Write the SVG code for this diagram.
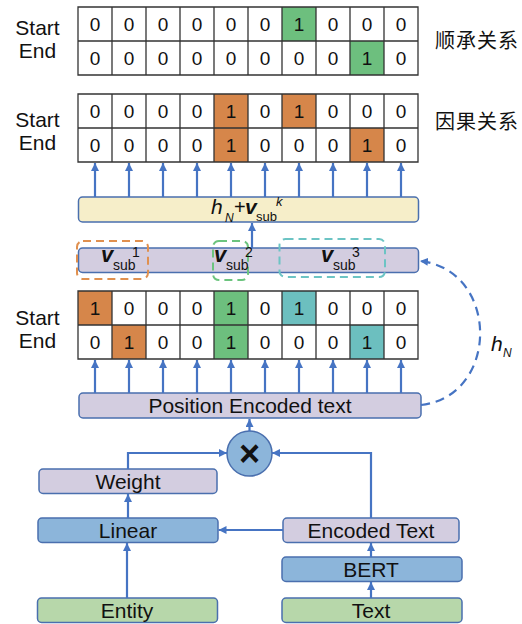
<svg xmlns="http://www.w3.org/2000/svg" width="522" height="624" viewBox="0 0 522 624">
<defs>
<style>
.lbl{font-family:"Liberation Sans",Arial,sans-serif;font-size:21px;fill:#111;text-anchor:middle}
.cn{font-family:"Noto Sans CJK SC","Noto Sans",sans-serif;font-size:20px;fill:#111;letter-spacing:1px}
.d{font-family:"Liberation Sans",Arial,sans-serif;font-size:19px;fill:#111;text-anchor:middle}
.grid{fill:none;stroke:#333;stroke-width:1.3}
.g{fill:#6dbf7e}.o{fill:#d6864a}.t{fill:#6cbfbf}
.box{stroke:#4a6fae;stroke-width:1.5}
.pu{fill:#d3cde0}.bl{fill:#8cb5da}.gr{fill:#b7d7aa}.ye{fill:#f6eec9}
.c{stroke:#4674c3;stroke-width:2.2;fill:none}
.m{font-family:"Liberation Sans",Arial,sans-serif;fill:#111}
</style>
<marker id="ah" viewBox="0 0 10 10" refX="10" refY="5" markerWidth="8" markerHeight="8" markerUnits="userSpaceOnUse" orient="auto"><path d="M0,0 L10,5 L0,10 z" fill="#4674c3"/></marker>
</defs>

<!-- Grid 1 -->
<g id="grid1">
<rect x="78" y="7" width="340" height="68" fill="#fff"/>
<rect class="g" x="282" y="7" width="34" height="34"/>
<rect class="g" x="350" y="41" width="34" height="34"/>
<path class="grid" d="M78,7H418V75H78Z M78,41H418 M112,7V75 M146,7V75 M180,7V75 M214,7V75 M248,7V75 M282,7V75 M316,7V75 M350,7V75 M384,7V75"/>
<text class="d" y="31"><tspan x="95">0</tspan><tspan x="129">0</tspan><tspan x="163">0</tspan><tspan x="197">0</tspan><tspan x="231">0</tspan><tspan x="265">0</tspan><tspan x="299">1</tspan><tspan x="333">0</tspan><tspan x="367">0</tspan><tspan x="401">0</tspan></text>
<text class="d" y="65"><tspan x="95">0</tspan><tspan x="129">0</tspan><tspan x="163">0</tspan><tspan x="197">0</tspan><tspan x="231">0</tspan><tspan x="265">0</tspan><tspan x="299">0</tspan><tspan x="333">0</tspan><tspan x="367">1</tspan><tspan x="401">0</tspan></text>
<text class="lbl" x="37.5" y="35">Start</text>
<text class="lbl" x="37.5" y="58">End</text>
<text class="cn" x="435" y="48">顺承关系</text>
</g>

<!-- Grid 2 -->
<g id="grid2">
<rect x="78" y="94" width="340" height="68" fill="#fff"/>
<rect class="o" x="214" y="94" width="34" height="68"/>
<rect class="o" x="282" y="94" width="34" height="34"/>
<rect class="o" x="350" y="128" width="34" height="34"/>
<path class="grid" d="M78,94H418V162H78Z M78,128H418 M112,94V162 M146,94V162 M180,94V162 M214,94V162 M248,94V162 M282,94V162 M316,94V162 M350,94V162 M384,94V162"/>
<text class="d" y="118"><tspan x="95">0</tspan><tspan x="129">0</tspan><tspan x="163">0</tspan><tspan x="197">0</tspan><tspan x="231">1</tspan><tspan x="265">0</tspan><tspan x="299">1</tspan><tspan x="333">0</tspan><tspan x="367">0</tspan><tspan x="401">0</tspan></text>
<text class="d" y="152"><tspan x="95">0</tspan><tspan x="129">0</tspan><tspan x="163">0</tspan><tspan x="197">0</tspan><tspan x="231">1</tspan><tspan x="265">0</tspan><tspan x="299">0</tspan><tspan x="333">0</tspan><tspan x="367">1</tspan><tspan x="401">0</tspan></text>
<text class="lbl" x="37.5" y="127">Start</text>
<text class="lbl" x="37.5" y="150">End</text>
<text class="cn" x="435" y="129">因果关系</text>
</g>

<!-- Grid 3 -->
<g id="grid3">
<rect x="78" y="291" width="340" height="68" fill="#fff"/>
<rect class="o" x="78" y="291" width="34" height="34"/>
<rect class="o" x="112" y="325" width="34" height="34"/>
<rect class="g" x="214" y="291" width="34" height="68"/>
<rect class="t" x="282" y="291" width="34" height="34"/>
<rect class="t" x="350" y="325" width="34" height="34"/>
<path class="grid" d="M78,291H418V359H78Z M78,325H418 M112,291V359 M146,291V359 M180,291V359 M214,291V359 M248,291V359 M282,291V359 M316,291V359 M350,291V359 M384,291V359"/>
<text class="d" y="315"><tspan x="95">1</tspan><tspan x="129">0</tspan><tspan x="163">0</tspan><tspan x="197">0</tspan><tspan x="231">1</tspan><tspan x="265">0</tspan><tspan x="299">1</tspan><tspan x="333">0</tspan><tspan x="367">0</tspan><tspan x="401">0</tspan></text>
<text class="d" y="349"><tspan x="95">0</tspan><tspan x="129">1</tspan><tspan x="163">0</tspan><tspan x="197">0</tspan><tspan x="231">1</tspan><tspan x="265">0</tspan><tspan x="299">0</tspan><tspan x="333">0</tspan><tspan x="367">1</tspan><tspan x="401">0</tspan></text>
<text class="lbl" x="37.5" y="325">Start</text>
<text class="lbl" x="37.5" y="348">End</text>
</g>

<!-- Yellow box -->
<g id="sum">
<rect class="box ye" x="78.5" y="197" width="340" height="25" rx="4"/>
<text class="m" font-size="21" font-style="italic" x="211" y="214">h</text>
<text class="m" font-size="12" font-style="italic" x="225" y="222">N</text>
<text class="m" font-size="20" x="234" y="214">+</text>
<text class="m" font-size="21" font-style="italic" font-weight="bold" x="245" y="214">v</text>
<text class="m" font-size="13" x="256" y="221">sub</text>
<text class="m" font-size="13" font-style="italic" x="276" y="206">k</text>
</g>

<!-- v_sub bar -->
<g id="vsub">
<rect class="box pu" x="78.5" y="248" width="340" height="24.5" rx="4"/>
<rect x="77" y="241" width="71" height="38" rx="6" fill="none" stroke="#e0904f" stroke-width="2" stroke-dasharray="8,5"/>
<rect x="213" y="241" width="35" height="39" rx="6" fill="none" stroke="#6cc47e" stroke-width="2" stroke-dasharray="8,5"/>
<rect x="279.5" y="239" width="105.5" height="38" rx="6" fill="none" stroke="#6cc4c4" stroke-width="2" stroke-dasharray="8,5"/>
<text class="m" font-size="22" font-style="italic" font-weight="bold" x="101" y="262">v</text>
<text class="m" font-size="14" x="113" y="270">sub</text>
<text class="m" font-size="14" x="132" y="257">1</text>
<text class="m" font-size="22" font-style="italic" font-weight="bold" x="214" y="262">v</text>
<text class="m" font-size="14" x="226" y="270">sub</text>
<text class="m" font-size="14" x="245" y="257">2</text>
<text class="m" font-size="22" font-style="italic" font-weight="bold" x="321" y="262">v</text>
<text class="m" font-size="14" x="333" y="270">sub</text>
<text class="m" font-size="14" x="352" y="257">3</text>
</g>

<g id="pos">
<rect class="box pu" x="79" y="393" width="342" height="25" rx="4"/>
<text class="lbl" x="250" y="413">Position Encoded text</text>
</g>

<g id="mult">
<circle cx="249.5" cy="453.5" r="22.5" fill="#8cb5da" stroke="#4a6fae" stroke-width="1.5"/>
<text class="m" font-size="36" font-weight="bold" text-anchor="middle" x="249.5" y="466">×</text>
</g>

<g id="weight"><rect class="box pu" x="39" y="469" width="178" height="24.5" rx="4"/><text class="lbl" x="128" y="488.5">Weight</text></g>
<g id="linear"><rect class="box bl" x="38" y="518" width="180" height="24.5" rx="4"/><text class="lbl" x="128" y="537.5">Linear</text></g>
<g id="entity"><rect class="box gr" x="37.5" y="598" width="180" height="24.5" rx="4"/><text class="lbl" x="127" y="617.5">Entity</text></g>
<g id="enctext"><rect class="box pu" x="283" y="518" width="176" height="24.5" rx="4"/><text class="lbl" x="371" y="537.5">Encoded Text</text></g>
<g id="bert"><rect class="box bl" x="282" y="557" width="180" height="24.5" rx="4"/><text class="lbl" x="371" y="576.5">BERT</text></g>
<g id="text"><rect class="box gr" x="282" y="598" width="180" height="24.5" rx="4"/><text class="lbl" x="371" y="617.5">Text</text></g>

<text class="m" font-size="21" font-style="italic" x="491" y="351">h</text>
<text class="m" font-size="12" font-style="italic" x="503" y="357">N</text>

<g id="connectors">
<path class="c" marker-end="url(#ah)" d="M95,197V163"/>
<path class="c" marker-end="url(#ah)" d="M129,197V163"/>
<path class="c" marker-end="url(#ah)" d="M163,197V163"/>
<path class="c" marker-end="url(#ah)" d="M197,197V163"/>
<path class="c" marker-end="url(#ah)" d="M231,197V163"/>
<path class="c" marker-end="url(#ah)" d="M265,197V163"/>
<path class="c" marker-end="url(#ah)" d="M299,197V163"/>
<path class="c" marker-end="url(#ah)" d="M333,197V163"/>
<path class="c" marker-end="url(#ah)" d="M367,197V163"/>
<path class="c" marker-end="url(#ah)" d="M401,197V163"/>
<path class="c" marker-end="url(#ah)" d="M95,393V360"/>
<path class="c" marker-end="url(#ah)" d="M129,393V360"/>
<path class="c" marker-end="url(#ah)" d="M163,393V360"/>
<path class="c" marker-end="url(#ah)" d="M197,393V360"/>
<path class="c" marker-end="url(#ah)" d="M231,393V360"/>
<path class="c" marker-end="url(#ah)" d="M265,393V360"/>
<path class="c" marker-end="url(#ah)" d="M299,393V360"/>
<path class="c" marker-end="url(#ah)" d="M333,393V360"/>
<path class="c" marker-end="url(#ah)" d="M367,393V360"/>
<path class="c" marker-end="url(#ah)" d="M401,393V360"/>
<path class="c" marker-end="url(#ah)" d="M252,248V223"/>
<path class="c" marker-end="url(#ah)" stroke-dasharray="9,6" d="M421,405 C500,396 500,270 420,261"/>
<path class="c" marker-end="url(#ah)" d="M249.5,431V419"/>
<path class="c" marker-end="url(#ah)" d="M128,469V453H227"/>
<path class="c" marker-end="url(#ah)" d="M371,518V453H272"/>
<path class="c" marker-end="url(#ah)" d="M128,518V494"/>
<path class="c" marker-end="url(#ah)" d="M127,598V543"/>
<path class="c" marker-end="url(#ah)" d="M283,530H218.5"/>
<path class="c" marker-end="url(#ah)" d="M371,557V543"/>
<path class="c" marker-end="url(#ah)" d="M371,598V582"/>
</g>
</svg>
